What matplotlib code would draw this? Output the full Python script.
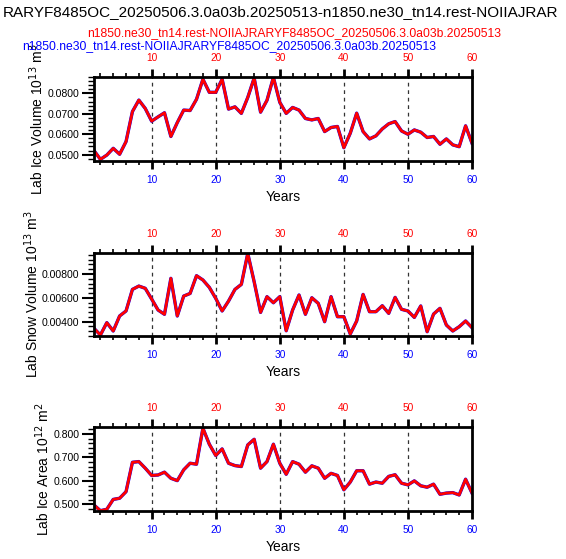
import matplotlib
matplotlib.use("Agg")
import matplotlib.pyplot as plt
from matplotlib.ticker import MultipleLocator, FormatStrFormatter

plt.rcParams['font.family'] = ['Liberation Sans', 'DejaVu Sans']

years = list(range(1, 61))

ice_volume = [0.0520, 0.0477, 0.0498, 0.0531, 0.0502, 0.0564, 0.0711, 0.0767, 0.0726, 0.0664,
              0.0685, 0.0705, 0.0589, 0.0657, 0.0718, 0.0716, 0.0771, 0.0869, 0.0805, 0.0805,
              0.0869, 0.0723, 0.0734, 0.0702, 0.0780, 0.0875, 0.0708, 0.0766, 0.0878, 0.0756,
              0.0702, 0.0731, 0.0718, 0.0677, 0.0670, 0.0677, 0.0613, 0.0633, 0.0638, 0.0534,
              0.0605, 0.0703, 0.0613, 0.0577, 0.0592, 0.0626, 0.0651, 0.0662, 0.0616, 0.0600,
              0.0621, 0.0610, 0.0584, 0.0589, 0.0551, 0.0577, 0.0548, 0.0539, 0.0641, 0.0556]

snow_volume = [0.00344, 0.00288, 0.00392, 0.00322, 0.00448, 0.00490, 0.00671, 0.00699, 0.00680, 0.00590,
               0.00498, 0.00462, 0.00764, 0.00448, 0.00615, 0.00637, 0.00786, 0.00750, 0.00688, 0.00596,
               0.00490, 0.00573, 0.00671, 0.00713, 0.00973, 0.00735, 0.00478, 0.00610, 0.00559, 0.00610,
               0.00324, 0.00498, 0.00624, 0.00462, 0.00601, 0.00554, 0.00400, 0.00610, 0.00442, 0.00442,
               0.00297, 0.00406, 0.00629, 0.00484, 0.00484, 0.00534, 0.00470, 0.00604, 0.00504, 0.00490,
               0.00436, 0.00532, 0.00316, 0.00464, 0.00512, 0.00372, 0.00322, 0.00358, 0.00406, 0.00350]

ice_area = [0.497, 0.473, 0.479, 0.521, 0.526, 0.554, 0.679, 0.682, 0.654, 0.623,
            0.625, 0.637, 0.611, 0.601, 0.647, 0.675, 0.671, 0.824, 0.756, 0.708,
            0.736, 0.675, 0.665, 0.661, 0.753, 0.777, 0.654, 0.682, 0.756, 0.675,
            0.628, 0.682, 0.671, 0.637, 0.664, 0.654, 0.611, 0.632, 0.623, 0.562,
            0.595, 0.643, 0.643, 0.586, 0.595, 0.590, 0.619, 0.626, 0.590, 0.583,
            0.600, 0.579, 0.573, 0.586, 0.543, 0.548, 0.550, 0.540, 0.607, 0.548]

title = "RARYF8485OC_20250506.3.0a03b.20250513-n1850.ne30_tn14.rest-NOIIAJRAR"
red_name = "n1850.ne30_tn14.rest-NOIIAJRARYF8485OC_20250506.3.0a03b.20250513"
blue_name = "n1850.ne30_tn14.rest-NOIIAJRARYF8485OC_20250506.3.0a03b.20250513"

W, H = 566, 559
fig = plt.figure(figsize=(W / 100, H / 100), dpi=100)


def px_rect(left, top, right, bottom):
    return [left / W, 1 - bottom / H, (right - left) / W, (bottom - top) / H]


panels = [
    (ice_volume, (77, 161), (0.0469, 0.0880), 0.01, 0.002, '%.4f',
     r'Lab Ice Volume 10$^{13}$ m$^3$'),
    (snow_volume, (252.7, 336), (0.0028, 0.00979), 0.002, 0.0004, '%.5f',
     r'Lab Snow Volume 10$^{13}$ m$^3$'),
    (ice_area, (427.3, 510.7), (0.473, 0.828), 0.1, 0.02, '%.3f',
     r'Lab Ice Area 10$^{12}$ m$^2$'),
]

left_px, right_px = 94, 472
for data, (top, bottom), ylim, major, minor, fmt, ylabel in panels:
    hpx = bottom - top
    ax = fig.add_axes(px_rect(left_px, top, right_px, bottom))
    ax.plot(years, data, color='blue', lw=2.4, solid_joinstyle='round')
    ax.plot(years, data, color='red', lw=2.0, solid_joinstyle='round')
    ax.set_xlim(1, 60)
    ax.set_ylim(*ylim)
    for xv in [10, 20, 30, 40, 50]:
        ax.axvline(xv, color='#333333', lw=0.9, ls=(0, (3, 3)), zorder=0)
    ax.xaxis.set_major_locator(MultipleLocator(10))
    ax.xaxis.set_minor_locator(MultipleLocator(2))
    ax.yaxis.set_major_locator(MultipleLocator(major))
    ax.yaxis.set_minor_locator(MultipleLocator(minor))
    ax.yaxis.set_major_formatter(FormatStrFormatter(fmt))
    ax.tick_params(axis='x', which='both', top=True, bottom=True, labeltop=True,
                   labelbottom=True, direction='out', labelsize=7.3)
    ax.tick_params(axis='x', which='major', length=6, width=2, pad=4)
    ax.tick_params(axis='x', which='minor', length=3, width=1.2)
    ax.tick_params(axis='y', which='both', left=True, right=False, direction='out',
                   labelsize=7.6)
    ax.tick_params(axis='y', which='major', length=8.5, width=1.5, pad=2)
    ax.tick_params(axis='y', which='minor', length=4.3, width=1)
    for t in ax.xaxis.get_major_ticks():
        t.label1.set_color('blue')
        t.label2.set_color('red')
    for s in ax.spines.values():
        s.set_linewidth(2.0)
    ax.set_ylabel(ylabel, fontsize=10, labelpad=1)
    ax.set_xlabel('Years', fontsize=10)
    ax.xaxis.set_label_coords(0.5, -29 / hpx)

fig.text(3 / W, 1 - 12 / H, title, fontsize=11, color='black', ha='left', va='center')
fig.text(87 / W, 1 - 33 / H, red_name, fontsize=8.7, color='red', ha='left', va='center')
fig.text(22 / W, 1 - 46 / H, blue_name, fontsize=8.7, color='blue', ha='left', va='center')

fig.savefig('out.png', dpi=100)
